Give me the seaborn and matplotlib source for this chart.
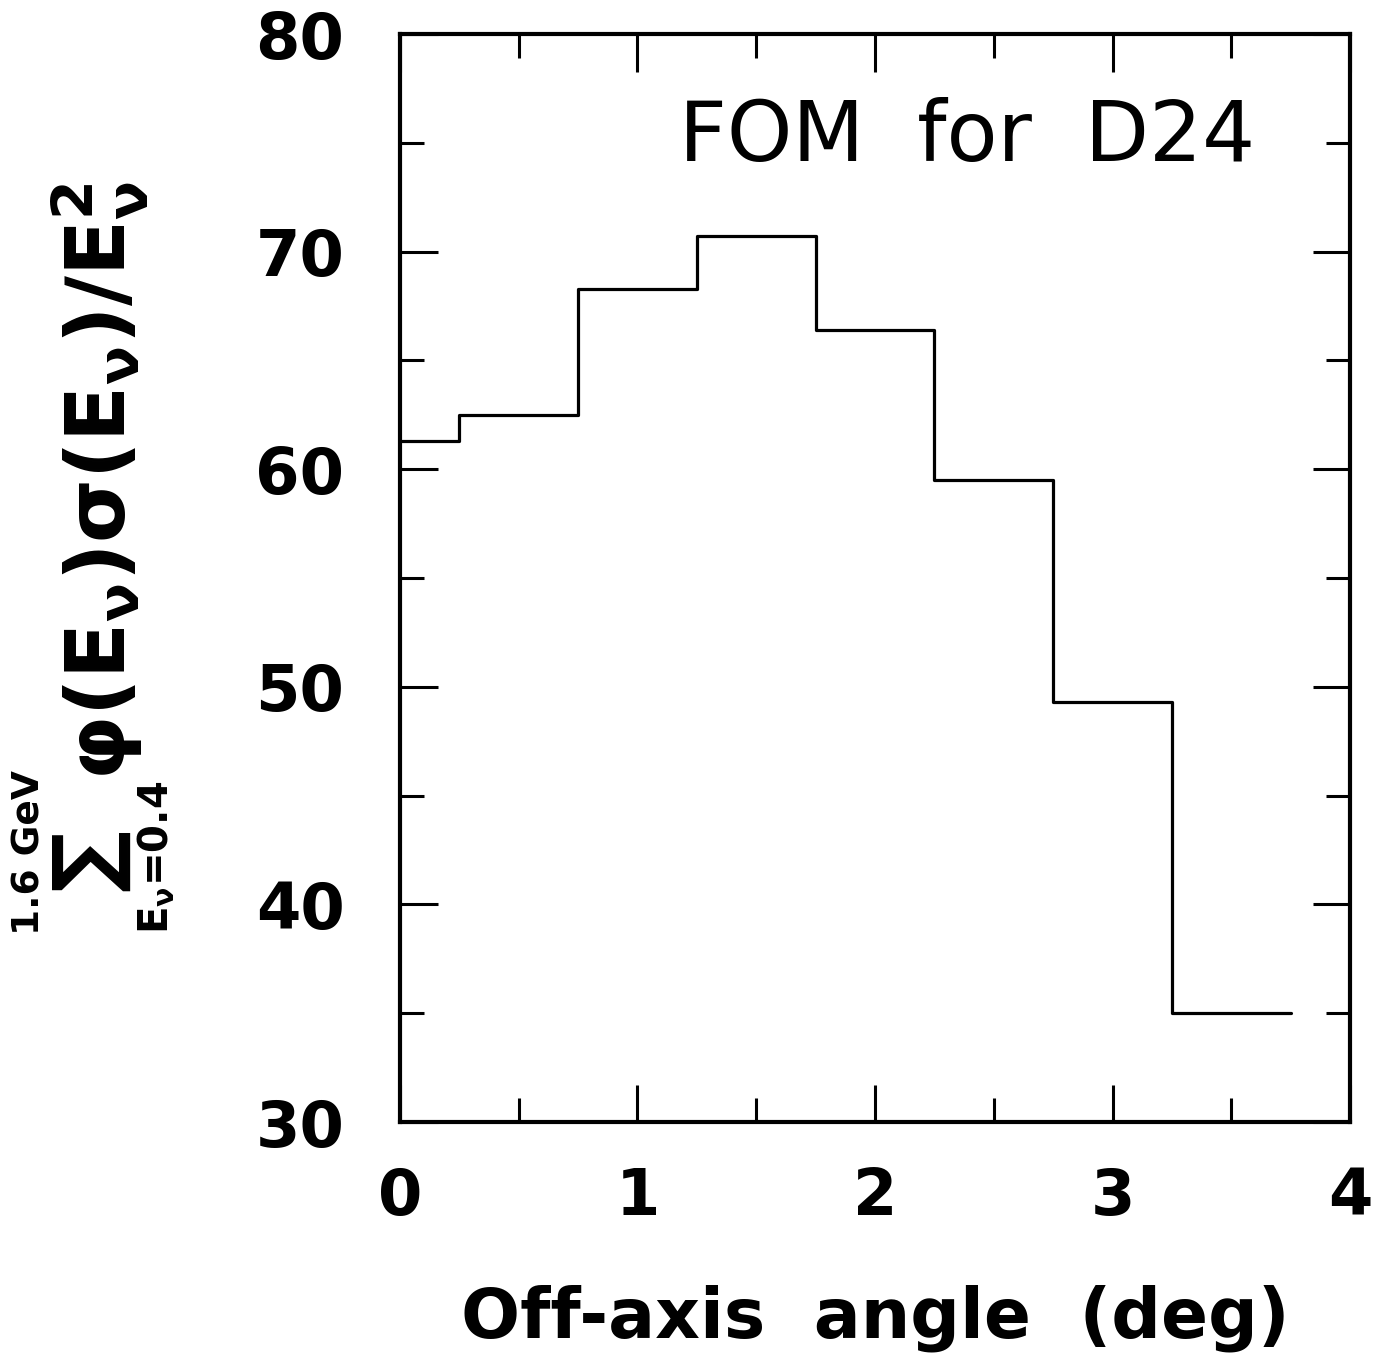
import matplotlib
matplotlib.use("Agg")
import matplotlib.pyplot as plt
import seaborn as sns
import pandas as pd
from matplotlib.ticker import MultipleLocator

bin_edges = [0.0, 0.25, 0.75, 1.25, 1.75, 2.25, 2.75, 3.25, 3.75]
fom_values = [61.3, 62.5, 68.3, 70.7, 66.4, 59.5, 49.3, 35.0]
x_ticks = [0, 1, 2, 3, 4]
y_ticks = [30, 40, 50, 60, 70, 80]

sns.set_theme(style="white")
plt.rcParams['font.family'] = ['DejaVu Sans']
plt.rcParams['mathtext.fontset'] = 'dejavusans'
plt.rcParams['mathtext.default'] = 'bf'
plt.rcParams['text.color'] = 'black'
plt.rcParams['axes.labelcolor'] = 'black'
plt.rcParams['xtick.color'] = 'black'
plt.rcParams['ytick.color'] = 'black'

df = pd.DataFrame({"angle": bin_edges, "fom": fom_values + [fom_values[-1]]})

W, H = 1381, 1362
fig = plt.figure(figsize=(W / 100, H / 100), dpi=100)
ax = fig.add_axes([0.2896, 0.1762, 0.688, 0.7988])
sns.lineplot(data=df, x="angle", y="fom", drawstyle="steps-post", color="black",
             linewidth=2.3, ax=ax, sort=False)

ax.set_xlim(0, 4)
ax.set_ylim(30, 80)
ax.set_xticks(x_ticks)
ax.set_yticks(y_ticks)
ax.xaxis.set_minor_locator(MultipleLocator(0.5))
ax.yaxis.set_minor_locator(MultipleLocator(5))
ax.tick_params(which='both', direction='in', top=True, right=True, bottom=True, left=True,
               color='black', width=2.2)
ax.tick_params(which='major', length=27, labelsize=46)
ax.tick_params(axis='y', which='major', pad=40)
ax.tick_params(axis='x', which='major', pad=32)
ax.tick_params(which='minor', length=17)
for lab in ax.get_xticklabels() + ax.get_yticklabels():
    lab.set_fontweight('bold')
for s in ax.spines.values():
    s.set_visible(True)
    s.set_color('black')
    s.set_linewidth(3)

ax.set_xlabel("Off-axis  angle  (deg)", fontsize=50, fontweight='bold', labelpad=40)
ax.set_ylabel("")

def ftext(px, py, s, **kw):
    fig.text(px / W, 1 - py / H, s, rotation=90, ha='center', va='center', **kw)

# y-axis label pieces
ftext(100, 480, r"$\varphi(E_\nu)\sigma(E_\nu)/E_\nu^2$", fontsize=59)
ftext(90, 860, "\u2211", fontsize=62, fontweight='bold')
ftext(30, 853, "1.6 GeV", fontsize=27, fontweight='bold')
ftext(157, 857, r"$E_\nu$=0.4", fontsize=29, fontweight='bold')

ax.text(0.9, 0.905, "FOM  for  D24", transform=ax.transAxes, ha='right', va='center',
        fontsize=60, fontweight='normal')

fig.savefig("out.png", dpi=100)
